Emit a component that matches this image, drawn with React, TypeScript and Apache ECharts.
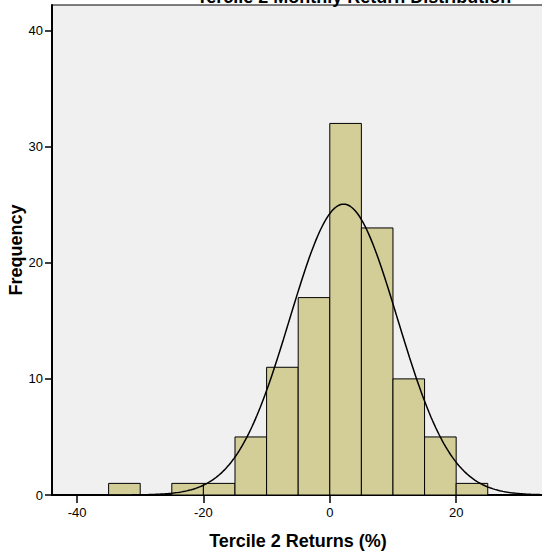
import React, { useEffect, useRef } from "react";
import * as echarts from "echarts";

const binStarts = [-35, -25, -20, -15, -10, -5, 0, 5, 10, 15, 20];
const binWidth = 5;
const frequencies = [1, 1, 1, 5, 11, 17, 32, 23, 10, 5, 1];
const xTicks = [-40, -20, 0, 20];
const yTicks = [0, 10, 20, 30, 40];
const fitMean = 2.19;
const fitSd = 8.52;
const xMin = -43.96;
const xMax = 33.9;
const yMax = 42.2;

export default function App() {
  const ref = useRef<HTMLDivElement>(null);
  useEffect(() => {
    if (!ref.current) return;
    const chart = echarts.init(ref.current, null, { renderer: "svg" });
    const n = frequencies.reduce((a, b) => a + b, 0);
    const curve: number[][] = [];
    const steps = 300;
    for (let i = 0; i <= steps; i++) {
      const x = xMin + ((xMax - xMin) * i) / steps;
      const z = (x - fitMean) / fitSd;
      const y = (n * binWidth * Math.exp(-0.5 * z * z)) / (fitSd * Math.sqrt(2 * Math.PI));
      curve.push([x, y]);
    }
    const barData = binStarts.map((s, i) => [s, s + binWidth, frequencies[i]]);
    const font = "'Liberation Sans', Arial, sans-serif";
    chart.setOption({
      animation: false,
      backgroundColor: "#ffffff",
      textStyle: { fontFamily: font },
      grid: {
        left: 52,
        right: -2,
        top: 5,
        bottom: 62,
        outerBoundsMode: "none",
        containLabel: false,
        show: true,
        backgroundColor: "#f0f0f0",
        borderColor: "#000",
        borderWidth: 1,
      },
      graphic: [
        {
          type: "text",
          x: 354,
          y: 6,
          style: {
            text: "Tercile 2 Monthly Return Distribution",
            font: `bold 18px ${font}`,
            fill: "#000",
            align: "center",
            verticalAlign: "bottom",
          },
        },
        {
          type: "text",
          x: 16,
          y: 250,
          rotation: Math.PI / 2,
          style: {
            text: "Frequency",
            font: `bold 18px ${font}`,
            fill: "#000",
            align: "center",
            verticalAlign: "middle",
          },
        },
      ],
      xAxis: {
        type: "value",
        min: xMin,
        max: xMax,
        name: "Tercile 2 Returns (%)",
        nameLocation: "middle",
        nameGap: 37,
        nameTextStyle: { fontSize: 18, fontWeight: "bold", color: "#000", fontFamily: font },
        splitLine: { show: false },
        axisLine: { show: true, onZero: false, lineStyle: { color: "#000", width: 2 } },
        axisTick: { show: true, length: 8, customValues: xTicks, lineStyle: { color: "#000", width: 1.5 } },
        axisLabel: { customValues: xTicks, fontSize: 13, color: "#000", margin: 11, fontFamily: font },
      },
      yAxis: {
        type: "value",
        min: 0,
        max: yMax,
        splitLine: { show: false },
        axisLine: { show: true, onZero: false, lineStyle: { color: "#000", width: 2 } },
        axisTick: { show: true, length: 7, customValues: yTicks, lineStyle: { color: "#000", width: 1.5 } },
        axisLabel: { customValues: yTicks, fontSize: 13, color: "#000", margin: 9, fontFamily: font },
      },
      series: [
        {
          type: "custom",
          data: barData,
          encode: { x: [0, 1], y: 2 },
          renderItem: (params: any, api: any) => {
            const p0 = api.coord([api.value(0), api.value(2)]);
            const p1 = api.coord([api.value(1), 0]);
            return {
              type: "rect",
              shape: { x: p0[0], y: p0[1], width: p1[0] - p0[0], height: p1[1] - p0[1] },
              style: { fill: "#d3ce98", stroke: "#000", lineWidth: 1 },
            };
          },
          z: 2,
        },
        {
          type: "line",
          data: curve,
          showSymbol: false,
          symbol: "none",
          lineStyle: { color: "#000", width: 1.5 },
          z: 3,
        },
      ],
    });
    return () => chart.dispose();
  }, []);
  return (
    <div
      ref={ref}
      style={{ position: "fixed", left: 0, top: 0, width: 542, height: 557 }}
    />
  );
}
